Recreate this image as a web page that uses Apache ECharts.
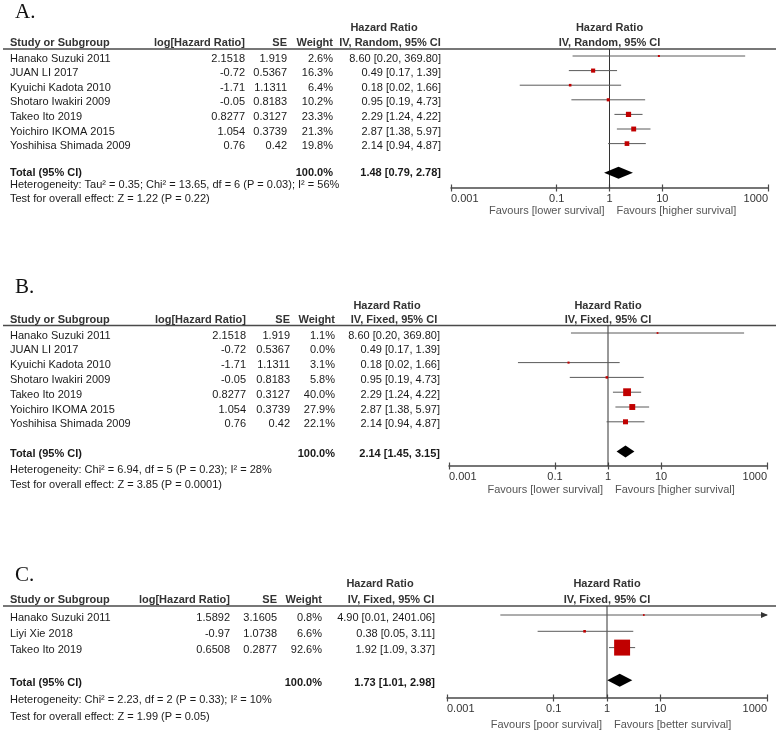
<!DOCTYPE html>
<html>
<head>
<meta charset="utf-8">
<script src="https://cdn.jsdelivr.net/npm/echarts@6/dist/echarts.min.js"></script>
<style>
html,body{margin:0;padding:0;background:#fff;}
#chart{width:778px;height:732px;}
</style>
</head>
<body>
<div id="chart"></div>
<script>
// ---------------- DATA ----------------
const tickValues = [0.001, 0.1, 1, 10, 1000];
const tickLabels = ['0.001', '0.1', '1', '10', '1000'];

// Panel A
const studiesA = ['Hanako Suzuki 2011', 'JUAN LI 2017', 'Kyuichi Kadota 2010', 'Shotaro Iwakiri 2009', 'Takeo Ito 2019', 'Yoichiro IKOMA 2015', 'Yoshihisa Shimada 2009'];
const logHrA = [2.1518, -0.72, -1.71, -0.05, 0.8277, 1.054, 0.76];
const seA = [1.919, 0.5367, 1.1311, 0.8183, 0.3127, 0.3739, 0.42];
const weightA = [2.6, 16.3, 6.4, 10.2, 23.3, 21.3, 19.8];
const hrA = [8.60, 0.49, 0.18, 0.95, 2.29, 2.87, 2.14];
const loA = [0.20, 0.17, 0.02, 0.19, 1.24, 1.38, 0.94];
const hiA = [369.80, 1.39, 1.66, 4.73, 4.22, 5.97, 4.87];
const totalA = [1.48, 0.79, 2.78];
const totalWeightA = 100.0;
const hetA = 'Heterogeneity: Tau² = 0.35; Chi² = 13.65, df = 6 (P = 0.03); I² = 56%';
const testA = 'Test for overall effect: Z = 1.22 (P = 0.22)';
const favA = ['Favours [lower survival]', 'Favours [higher survival]'];
const methodA = 'IV, Random, 95% CI';

// Panel B
const studiesB = ['Hanako Suzuki 2011', 'JUAN LI 2017', 'Kyuichi Kadota 2010', 'Shotaro Iwakiri 2009', 'Takeo Ito 2019', 'Yoichiro IKOMA 2015', 'Yoshihisa Shimada 2009'];
const logHrB = [2.1518, -0.72, -1.71, -0.05, 0.8277, 1.054, 0.76];
const seB = [1.919, 0.5367, 1.1311, 0.8183, 0.3127, 0.3739, 0.42];
const weightB = [1.1, 0.0, 3.1, 5.8, 40.0, 27.9, 22.1];
const hrB = [8.60, 0.49, 0.18, 0.95, 2.29, 2.87, 2.14];
const loB = [0.20, 0.17, 0.02, 0.19, 1.24, 1.38, 0.94];
const hiB = [369.80, 1.39, 1.66, 4.73, 4.22, 5.97, 4.87];
const totalB = [2.14, 1.45, 3.15];
const totalWeightB = 100.0;
const hetB = 'Heterogeneity: Chi² = 6.94, df = 5 (P = 0.23); I² = 28%';
const testB = 'Test for overall effect: Z = 3.85 (P = 0.0001)';
const favB = ['Favours [lower survival]', 'Favours [higher survival]'];
const methodB = 'IV, Fixed, 95% CI';

// Panel C
const studiesC = ['Hanako Suzuki 2011', 'Liyi Xie 2018', 'Takeo Ito 2019'];
const logHrC = [1.5892, -0.97, 0.6508];
const seC = [3.1605, 1.0738, 0.2877];
const weightC = [0.8, 6.6, 92.6];
const hrC = [4.90, 0.38, 1.92];
const loC = [0.01, 0.05, 1.09];
const hiC = [2401.06, 3.11, 3.37];
const totalC = [1.73, 1.01, 2.98];
const totalWeightC = 100.0;
const hetC = 'Heterogeneity: Chi² = 2.23, df = 2 (P = 0.33); I² = 10%';
const testC = 'Test for overall effect: Z = 1.99 (P = 0.05)';
const favC = ['Favours [poor survival]', 'Favours [better survival]'];
const methodC = 'IV, Fixed, 95% CI';

// ---------------- LAYOUT ----------------
const FONT = '"Liberation Sans", Arial, sans-serif';
const panels = [
  { label: 'A.', labelY: 12, h1: 28, h2: 43, rule: 49, rowTop: 56, rowStep: 14.6, axisY: 188, left: 451, right: 768,
    col: { log: 245, se: 287, w: 333, hr: 441, hrH1: 384, hrH2: 390 }, totalDy: 0, hetY: 185, testY: 199, favDy: 23,
    studies: studiesA, logHr: logHrA, se: seA, weight: weightA, hr: hrA, lo: loA, hi: hiA, total: totalA, totalWeight: totalWeightA,
    het: hetA, test: testA, fav: favA, method: methodA, dh: 6 },
  { label: 'B.', labelY: 287, h1: 306, h2: 320, rule: 325.5, rowTop: 333, rowStep: 14.8, axisY: 466, left: 449, right: 767,
    col: { log: 246, se: 290, w: 335, hr: 440, hrH1: 387, hrH2: 394 }, totalDy: 2.5, hetY: 470, testY: 485, favDy: 24,
    studies: studiesB, logHr: logHrB, se: seB, weight: weightB, hr: hrB, lo: loB, hi: hiB, total: totalB, totalWeight: totalWeightB,
    het: hetB, test: testB, fav: favB, method: methodB, dh: 6 },
  { label: 'C.', labelY: 575, h1: 584, h2: 600, rule: 606, rowTop: 615, rowStep: 16.3, axisY: 698, left: 447, right: 767,
    col: { log: 230, se: 277, w: 322, hr: 435, hrH1: 380, hrH2: 391 }, totalDy: 2.5, hetY: 700, testY: 717, favDy: 27,
    studies: studiesC, logHr: logHrC, se: seC, weight: weightC, hr: hrC, lo: loC, hi: hiC, total: totalC, totalWeight: totalWeightC,
    het: hetC, test: testC, fav: favC, method: methodC, dh: 6.5 }
];

const X_MIN = 0.001, X_MAX = 1000;
function tickFmt(v) {
  let best = 0, bd = Infinity;
  tickValues.forEach((t, i) => { const d = Math.abs(Math.log10(v) - Math.log10(t)); if (d < bd) { bd = d; best = i; } });
  return tickLabels[best];
}

const chart = echarts.init(document.getElementById('chart'), null, { renderer: 'canvas' });

const grids = [], xAxes = [], yAxes = [], series = [];
panels.forEach((p, i) => {
  const yMin = -(p.rowTop - p.rule) / p.rowStep;
  const yMax = (p.axisY - p.rowTop) / p.rowStep;
  p.yMin = yMin; p.yMax = yMax;
  grids.push({ left: p.left, width: p.right - p.left, top: p.rule, height: p.axisY - p.rule, containLabel: false });
  const axisColor = '#4a4a4a';
  xAxes.push({
    type: 'log', logBase: 10, gridIndex: i, min: X_MIN, max: X_MAX, position: 'bottom',
    axisLine: { show: true, onZero: false, lineStyle: { color: axisColor, width: 1.5 } },
    axisTick: { show: true, customValues: tickValues, length: 3.5, inside: false, lineStyle: { color: axisColor, width: 1.2 } },
    axisLabel: { show: true, customValues: tickValues, formatter: tickFmt, margin: 5, fontSize: 11, fontFamily: FONT, color: '#333',
      alignMinLabel: 'left', alignMaxLabel: 'right' },
    splitLine: { show: false }, minorTick: { show: false }
  });
  xAxes.push({
    type: 'log', logBase: 10, gridIndex: i, min: X_MIN, max: X_MAX, position: 'bottom',
    axisLine: { show: false, onZero: false },
    axisTick: { show: true, customValues: tickValues, length: 3.5, inside: true, lineStyle: { color: axisColor, width: 1.2 } },
    axisLabel: { show: false }, splitLine: { show: false }
  });
  yAxes.push({ type: 'value', gridIndex: i, inverse: true, min: yMin, max: yMax, show: false, splitLine: { show: false } });

  const ciData = [], sqData = [];
  p.studies.forEach((s, r) => {
    if (p.weight[r] > 0) {
      ciData.push([p.lo[r], p.hi[r], r]);
      sqData.push([p.hr[r], r, p.weight[r]]);
    }
  });
  const totalRow = p.studies.length + 1;
  p.totalRow = totalRow;

  // vertical line of no effect
  series.push({
    type: 'line', xAxisIndex: 2 * i, yAxisIndex: i, data: [[1, yMin], [1, yMax]], symbol: 'none',
    lineStyle: { color: '#333', width: 1 }, silent: true, z: 1
  });
  // confidence intervals
  series.push({
    type: 'custom', xAxisIndex: 2 * i, yAxisIndex: i, data: ciData, encode: { x: [0, 1], y: 2 }, z: 2, silent: true,
    renderItem: function (params, api) {
      const lo = api.value(0), hi = api.value(1), row = api.value(2);
      const a = api.coord([Math.max(lo, X_MIN), row]);
      const b = api.coord([Math.min(hi, X_MAX), row]);
      const children = [{ type: 'line', shape: { x1: a[0], y1: a[1], x2: b[0], y2: b[1] }, style: { stroke: '#5a5a5a', lineWidth: 1 } }];
      if (hi > X_MAX) children.push({ type: 'polygon', shape: { points: [[b[0] + 1, b[1]], [b[0] - 6, b[1] - 3], [b[0] - 6, b[1] + 3]] }, style: { fill: '#333' } });
      if (lo < X_MIN) children.push({ type: 'polygon', shape: { points: [[a[0] - 1, a[1]], [a[0] + 6, a[1] - 3], [a[0] + 6, a[1] + 3]] }, style: { fill: '#333' } });
      return { type: 'group', children: children };
    }
  });
  // weighted squares
  series.push({
    type: 'scatter', xAxisIndex: 2 * i, yAxisIndex: i, data: sqData, symbol: 'rect', z: 3, silent: true,
    symbolSize: function (v) { return 1.6 + 0.155 * v[2]; },
    itemStyle: { color: '#c00000', opacity: 1 }
  });
  // pooled diamond
  series.push({
    type: 'custom', xAxisIndex: 2 * i, yAxisIndex: i, data: [[p.total[1], p.total[2], totalRow, p.total[0]]],
    encode: { x: [0, 1, 3], y: 2 }, z: 4, silent: true,
    renderItem: (function (dh) {
      return function (params, api) {
        const row = api.value(2);
        const l = api.coord([api.value(0), row]);
        const r = api.coord([api.value(1), row]);
        const m = api.coord([api.value(3), row]);
        return { type: 'polygon', shape: { points: [[l[0], l[1]], [m[0], m[1] - dh], [r[0], r[1]], [m[0], m[1] + dh]] }, style: { fill: '#000' } };
      };
    })(p.dh)
  });
});

chart.setOption({ animation: false, backgroundColor: '#fff', grid: grids, xAxis: xAxes, yAxis: yAxes, series: series });

// ---------------- TEXT TABLES ----------------
const g = [];
function txt(t, x, y, align, opts) {
  opts = opts || {};
  g.push({
    type: 'text', x: x, y: y, silent: true,
    style: {
      text: t, font: (opts.bold ? 'bold ' : '') + (opts.size || 11) + 'px ' + (opts.family || FONT),
      fill: opts.color || '#1a1a1a', textAlign: align, textVerticalAlign: 'middle', align: align, verticalAlign: 'middle'
    }
  });
}
panels.forEach((p, i) => {
  const x1 = chart.convertToPixel({ xAxisIndex: 2 * i }, 1);
  const rowPx = r => chart.convertToPixel({ yAxisIndex: i }, r);
  const rowY = r => rowPx(r) + 2.5;
  txt(p.label, 15, p.labelY, 'left', { size: 21, family: '"Liberation Serif", "Times New Roman", serif', color: '#111' });
  txt('Hazard Ratio', p.col.hrH1, p.h1, 'center', { bold: true, color: '#333' });
  txt('Hazard Ratio', x1, p.h1, 'center', { bold: true, color: '#333' });
  txt('Study or Subgroup', 10, p.h2, 'left', { bold: true, color: '#333' });
  txt('log[Hazard Ratio]', p.col.log, p.h2, 'right', { bold: true, color: '#333' });
  txt('SE', p.col.se, p.h2, 'right', { bold: true, color: '#333' });
  txt('Weight', p.col.w, p.h2, 'right', { bold: true, color: '#333' });
  txt(p.method, p.col.hrH2, p.h2, 'center', { bold: true, color: '#333' });
  txt(p.method, x1, p.h2, 'center', { bold: true, color: '#333' });
  g.push({ type: 'line', silent: true, shape: { x1: 3, y1: p.rule, x2: 776, y2: p.rule }, style: { stroke: '#4a4a4a', lineWidth: 1.5 } });
  p.studies.forEach((s, r) => {
    const y = rowY(r);
    txt(s, 10, y, 'left');
    txt(String(p.logHr[r]), p.col.log, y, 'right');
    txt(String(p.se[r]), p.col.se, y, 'right');
    txt(p.weight[r].toFixed(1) + '%', p.col.w, y, 'right');
    txt(p.hr[r].toFixed(2) + ' [' + p.lo[r].toFixed(2) + ', ' + p.hi[r].toFixed(2) + ']', p.col.hr, y, 'right');
  });
  const ty = rowPx(p.totalRow) + p.totalDy;
  txt('Total (95% CI)', 10, ty, 'left', { bold: true });
  txt(p.totalWeight.toFixed(1) + '%', p.col.w, ty, 'right', { bold: true });
  txt(p.total[0].toFixed(2) + ' [' + p.total[1].toFixed(2) + ', ' + p.total[2].toFixed(2) + ']', p.col.hr, ty, 'right', { bold: true });
  txt(p.het, 10, p.hetY, 'left');
  txt(p.test, 10, p.testY, 'left');
  txt(p.fav[0], x1 - 5, p.axisY + p.favDy, 'right', { color: '#555' });
  txt(p.fav[1], x1 + 7, p.axisY + p.favDy, 'left', { color: '#555' });
});
chart.setOption({ graphic: g });
</script>
</body>
</html>
